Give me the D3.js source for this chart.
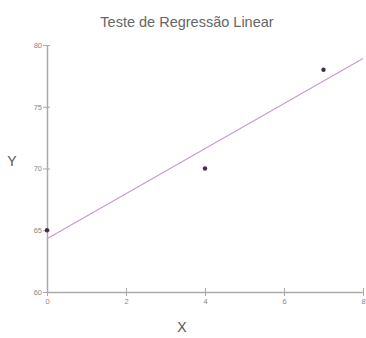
<!DOCTYPE html>
<html>
<head>
<meta charset="utf-8">
<script src="https://cdn.jsdelivr.net/npm/d3@7"></script>
<style>
  html, body { margin: 0; padding: 0; background: #fff; }
  svg { display: block; }
  text { font-family: "Liberation Sans", Arial, sans-serif; }
</style>
</head>
<body>
<svg id="chart" width="366" height="338"></svg>
<script>
// Observations
const xValues = [0, 4, 7];
const yValues = [65, 70, 78];
const xTicks = [0, 2, 4, 6, 8];
const yTicks = [60, 65, 70, 75, 80];

// Least-squares fit
const mx = d3.mean(xValues), my = d3.mean(yValues);
const sxy = d3.sum(xValues, (x, i) => (x - mx) * (yValues[i] - my));
const sxx = d3.sum(xValues, x => (x - mx) ** 2);
const slope = sxy / sxx;
const intercept = my - slope * mx;

const svg = d3.select("#chart");
const x = d3.scaleLinear().domain([0, 8]).range([47, 363]);
const y = d3.scaleLinear().domain([60, 80]).range([292, 45]);

const axisColor = "#aaa";
const textColor = "#888";

// Title
svg.append("text")
  .attr("x", 187).attr("y", 27)
  .attr("text-anchor", "middle")
  .attr("font-size", 14.5)
  .attr("fill", "#666")
  .text("Teste de Regressão Linear");

// X axis
const gx = svg.append("g").attr("transform", `translate(0,${y(60)})`)
  .call(d3.axisBottom(x).tickValues(xTicks).tickFormat(d3.format("d")).tickSize(4).tickSizeOuter(0));
gx.selectAll(".tick line").attr("y1", -4);

// Y axis
const gy = svg.append("g").attr("transform", `translate(${x(0)},0)`)
  .call(d3.axisLeft(y).tickValues(yTicks).tickFormat(d3.format("d")).tickSize(4).tickSizeOuter(0));
gy.selectAll(".tick line").attr("x1", 3).attr("x2", -4);

[gx, gy].forEach(g => {
  g.select(".domain").attr("stroke", axisColor).attr("stroke-width", 1.5);
  g.selectAll(".tick line").attr("stroke", axisColor);
  g.selectAll(".tick text")
    .attr("fill", textColor)
    .attr("font-family", null)
    .attr("font-size", 7.5);
});
gy.selectAll(".tick text").attr("x", -5);
gx.selectAll(".tick text").attr("y", 7);

// Axis titles
svg.append("text")
  .attr("x", 12).attr("y", 166)
  .attr("text-anchor", "middle")
  .attr("font-size", 14)
  .attr("fill", "#555")
  .text("Y");
svg.append("text")
  .attr("x", 182).attr("y", 332)
  .attr("text-anchor", "middle")
  .attr("font-size", 14)
  .attr("fill", "#555")
  .text("X");

// Regression line
svg.append("line")
  .attr("x1", x(0)).attr("y1", y(intercept))
  .attr("x2", x(8)).attr("y2", y(intercept + slope * 8))
  .attr("stroke", "#c79ec9")
  .attr("stroke-width", 1.2);

// Points
svg.append("g").selectAll("circle")
  .data(xValues.map((v, i) => [v, yValues[i]]))
  .join("circle")
  .attr("cx", d => x(d[0]))
  .attr("cy", d => y(d[1]))
  .attr("r", 2.2)
  .attr("fill", "#4b2a4d");
</script>
</body>
</html>
